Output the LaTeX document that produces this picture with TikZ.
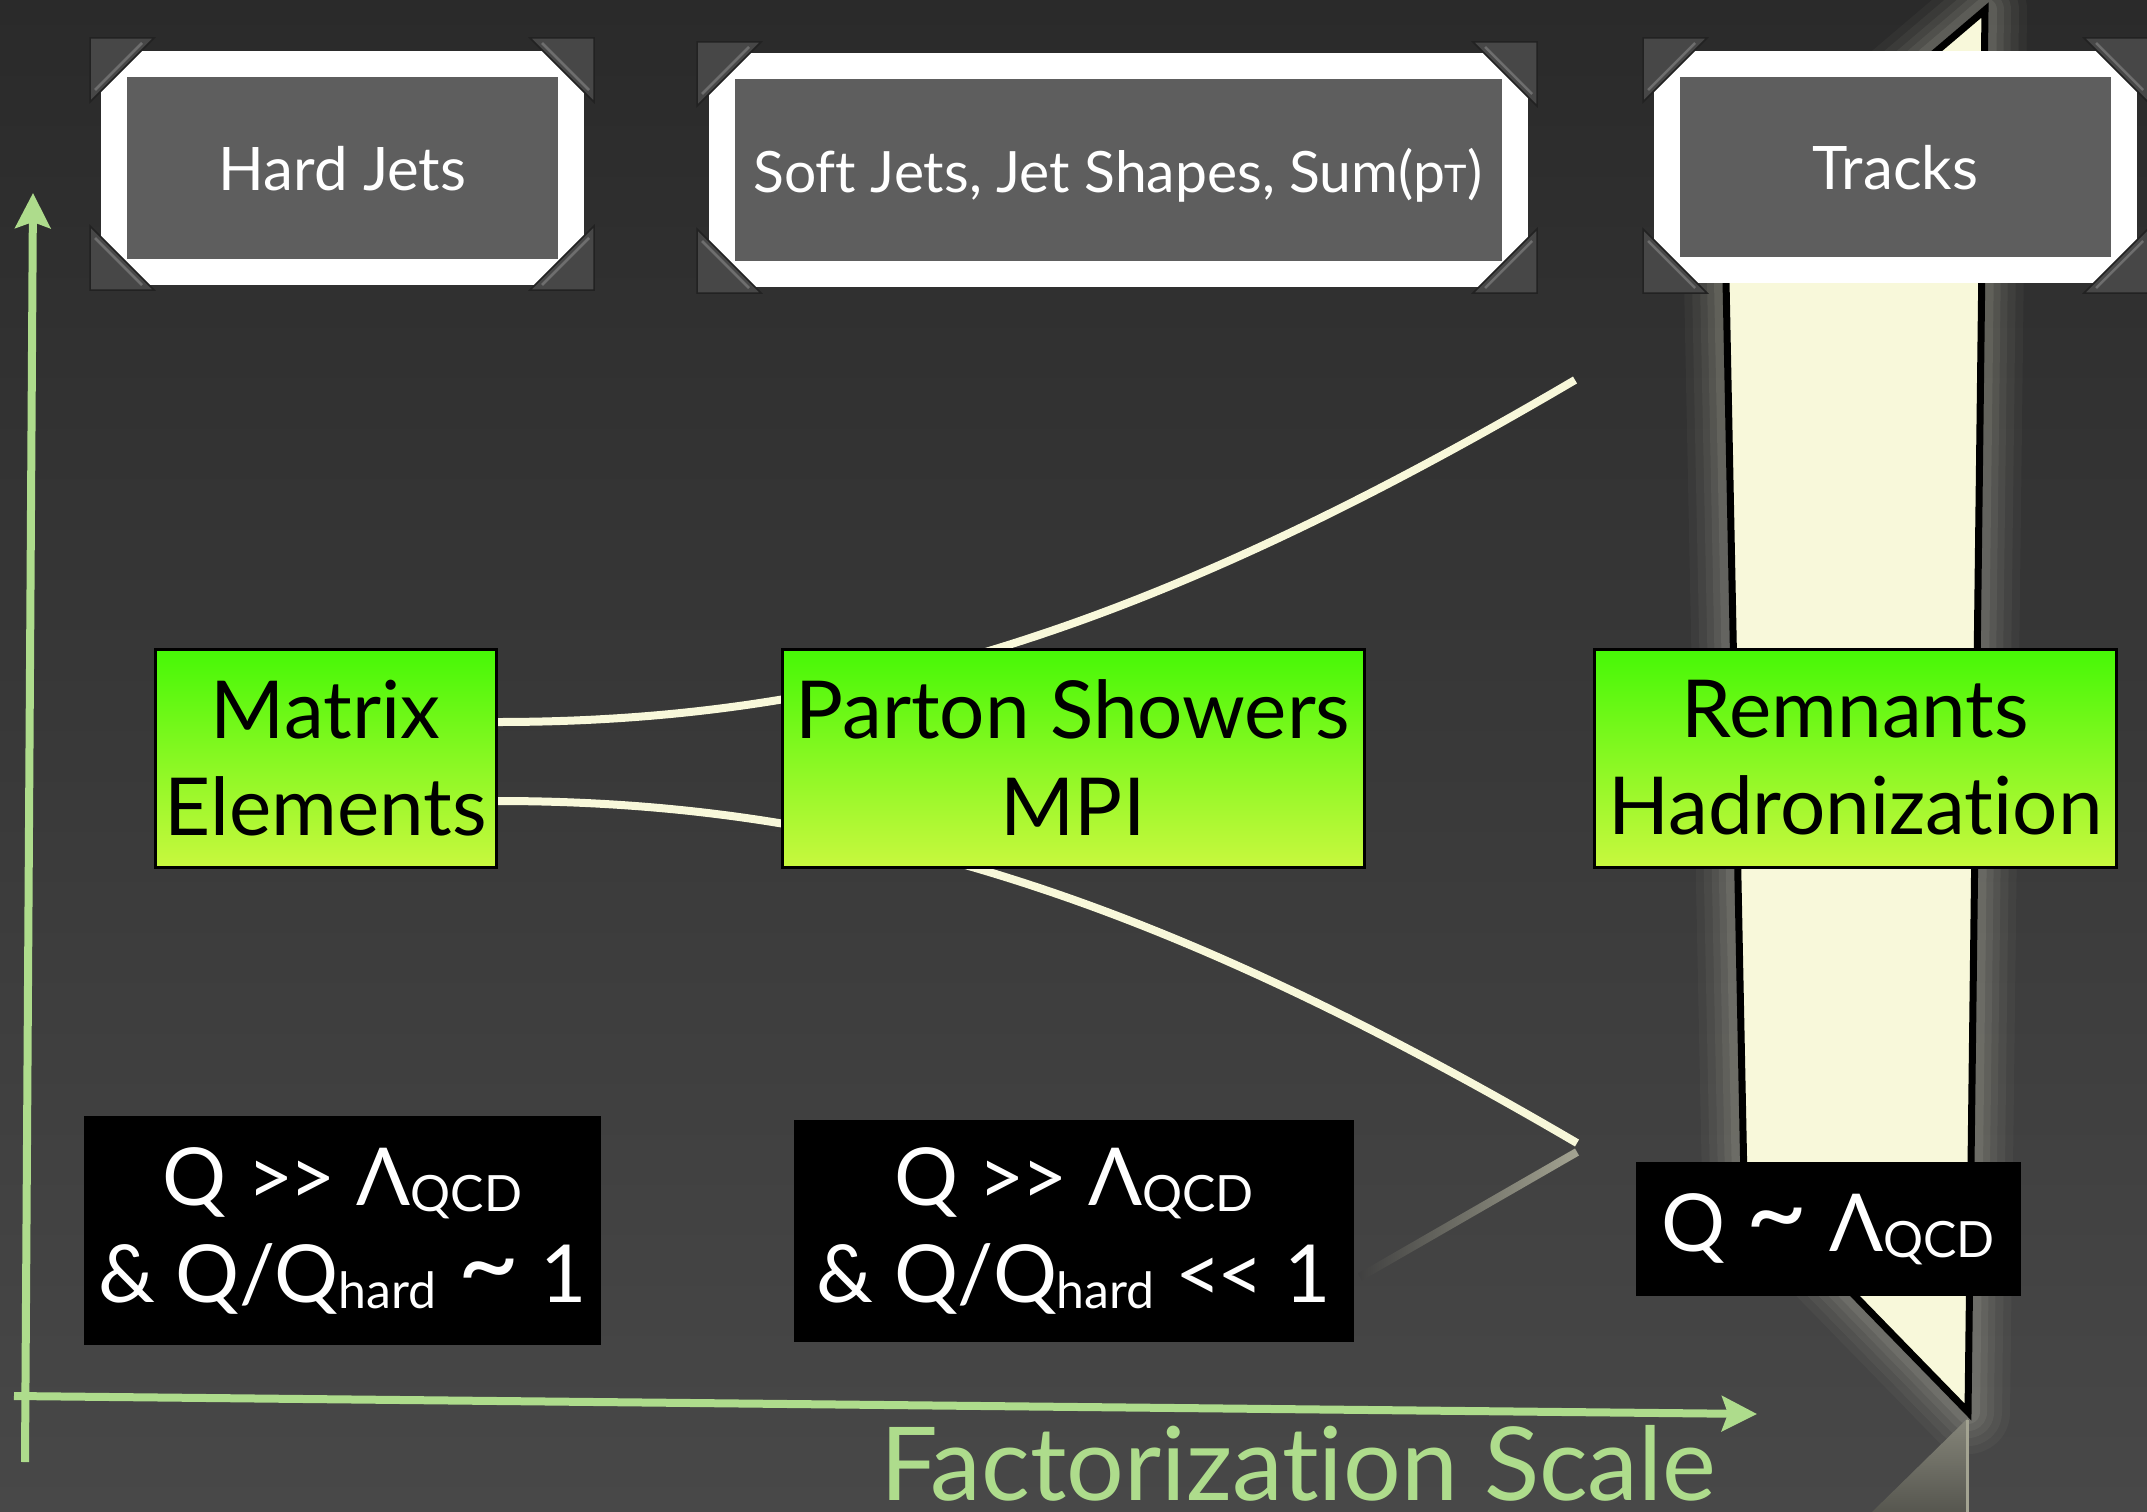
\documentclass[tikz,border=0pt]{standalone}
\usepackage{fontspec}
\setmainfont{Lato}[Ligatures=NoCommon]
\usetikzlibrary{arrows.meta}
\definecolor{bgtop}{HTML}{2A2A2A}
\definecolor{bgbot}{HTML}{484848}
\definecolor{framegray}{HTML}{5E5E5E}
\definecolor{cream}{HTML}{F8F8DA}
\definecolor{greentop}{HTML}{46F806}
\definecolor{greenbot}{HTML}{C8F83E}
\definecolor{axisgreen}{HTML}{AEDC8C}
\definecolor{orndark}{HTML}{474747}
\definecolor{ornedge}{HTML}{222222}
\definecolor{ornlight}{HTML}{6E6E6E}
\definecolor{glowc}{HTML}{E6E6D2}
\definecolor{reflc}{HTML}{86867A}
\definecolor{reflbot}{HTML}{56564F}
\definecolor{bgmid}{HTML}{404040}
\definecolor{reflline}{HTML}{A4A492}
\pgfdeclarelayer{back}
\pgfdeclarelayer{mid}
\pgfsetlayers{back,mid,main}
\newcommand{\lowsub}[1]{\raisebox{-6pt}{\fontsize{50}{50}\selectfont #1}}
\newcommand{\bigtilde}{\raisebox{2pt}{\scalebox{1.35}{\textasciitilde}}}
\newcommand{\dblgt}{>\kern-4pt>}
\newcommand{\dbllt}{<\kern-4pt<}
\tikzset{
  jetframe/.style={draw=white, fill=framegray, line width=26pt, inner sep=0pt,
    text=white, font=\fontsize{60}{72}\selectfont, text height=44pt, text depth=0pt},
  stagebox/.style={draw=black, line width=3pt, top color=greentop, bottom color=greenbot,
    inner sep=0pt, align=center, font=\fontsize{80}{97}\selectfont},
  condbox/.style={fill=black, text=white, inner sep=0pt, align=center,
    font=\fontsize{80}{97}\selectfont},
  shower/.style={draw=cream, line width=8pt},
  axis/.style={draw=axisgreen, line width=8pt,
    -{Stealth[length=35pt,width=35pt,inset=6pt]}},
  orn/.pic={
    \fill[orndark, draw=ornedge, line width=1.5pt] (0pt,0pt) -- (64pt,0pt) -- (0pt,-64pt) -- cycle;
    \draw[ornlight, line width=2.5pt] (52pt,-5pt) -- (5pt,-52pt);
  }
}
\begin{document}
\begin{tikzpicture}[x=1pt,y=-1pt]
\useasboundingbox (0,0) rectangle (2147,1512);
\begin{pgfonlayer}{back}
  \shade[top color=bgtop, bottom color=bgbot] (0,0) rectangle (2147,1512);
\end{pgfonlayer}

% photo frames
\node[jetframe, minimum width=457pt, minimum height=207pt] (hj) at (342.5,168) {Hard Jets};
\node[jetframe, minimum width=793pt, minimum height=207pt, font=\fontsize{57}{68}\selectfont] (sj) at (1118,170) {Soft Jets, Jet Shapes, Sum(p{\fontsize{38}{38}\selectfont T})};
\node[jetframe, minimum width=457pt, minimum height=206pt] (tr) at (1895.5,167) {Tracks};

% corner ornaments
\foreach \cx/\cy/\dx/\dy in {90/38/594/290, 697/42/1537/293, 1643/38/2148/293}{
  \pic at (\cx,\cy) {orn};
  \pic[rotate=-90] at (\dx,\cy) {orn};
  \pic[rotate=180] at (\dx,\dy) {orn};
  \pic[rotate=90] at (\cx,\dy) {orn};
}

% stage boxes
\node[stagebox, minimum width=341pt, minimum height=218pt] (me) at (325.5,758) {Matrix\\Elements};
\node[stagebox, minimum width=582pt, minimum height=218pt] (ps) at (1073,758) {Parton Showers\\MPI};
\node[stagebox, minimum width=522pt, minimum height=218pt] (rh) at (1855.5,758) {Remnants\\Hadronization};

% condition boxes
\node[condbox, minimum width=517pt, minimum height=229pt] (c1) at (342.5,1230.5)
  {Q \dblgt{} Λ\lowsub{QCD}\\\& Q/Q\lowsub{hard} \bigtilde{} 1};
\node[condbox, minimum width=560pt, minimum height=222pt] (c2) at (1074,1231)
  {Q \dblgt{} Λ\lowsub{QCD}\\\& Q/Q\lowsub{hard} \dbllt{} 1};
\node[condbox, minimum width=385pt, minimum height=134pt] (c3) at (1828,1229)
  {Q \bigtilde{} Λ\lowsub{QCD}};

% axes
\coordinate (vb) at (25,1462);
\coordinate (vt) at (33,193);
\coordinate (hb) at (14,1396);
\coordinate (ht) at (1757,1414);
\draw[axis] (vb) -- (vt);
\draw[axis] (hb) -- (ht);
\node[text=axisgreen, anchor=base west, inner sep=0pt, text depth=0pt, font=\fontsize{102}{108}\selectfont] (fs) at (880,1500) {Factorization Scale};

% shard, glow and showers behind boxes
\coordinate (s1) at (1985,10);
\coordinate (s2) at (1725,231);
\coordinate (s3) at (1744,1182);
\coordinate (s4) at (1968,1412);
\coordinate (ue) at (1575,380);
\coordinate (le) at (1577,1143);
\begin{pgfonlayer}{mid}
  \foreach \w/\o in {84/0.04,68/0.05,52/0.06,38/0.07,24/0.09}{
    \draw[glowc, line width=\w pt, opacity=\o, line join=round] (s1) -- (s2) -- (s3) -- (s4) -- cycle;
  }
  \shade[top color=reflc, bottom color=reflbot] (1968,1418) -- (1968,1512) -- (1872,1512) -- cycle;
  \draw[reflline, line width=3pt] (1967,1420) -- (1967,1512);
  \draw[black, fill=cream, line width=7pt] (s1) -- (s2) -- (s3) -- (s4) -- cycle;
  \draw[shower] ([yshift=36pt]me.east) .. controls (850,722) and (1150,630) .. (ue);
  \draw[shower] ([yshift=-43pt]me.east) .. controls (850,801) and (1150,893) .. (le);
  \shade[left color=bgmid, right color=reflline] (1358,1273.5) -- (1575,1148.5) -- (1579,1155.5) -- (1362,1280.5) -- cycle;
\end{pgfonlayer}
\end{tikzpicture}
\end{document}
